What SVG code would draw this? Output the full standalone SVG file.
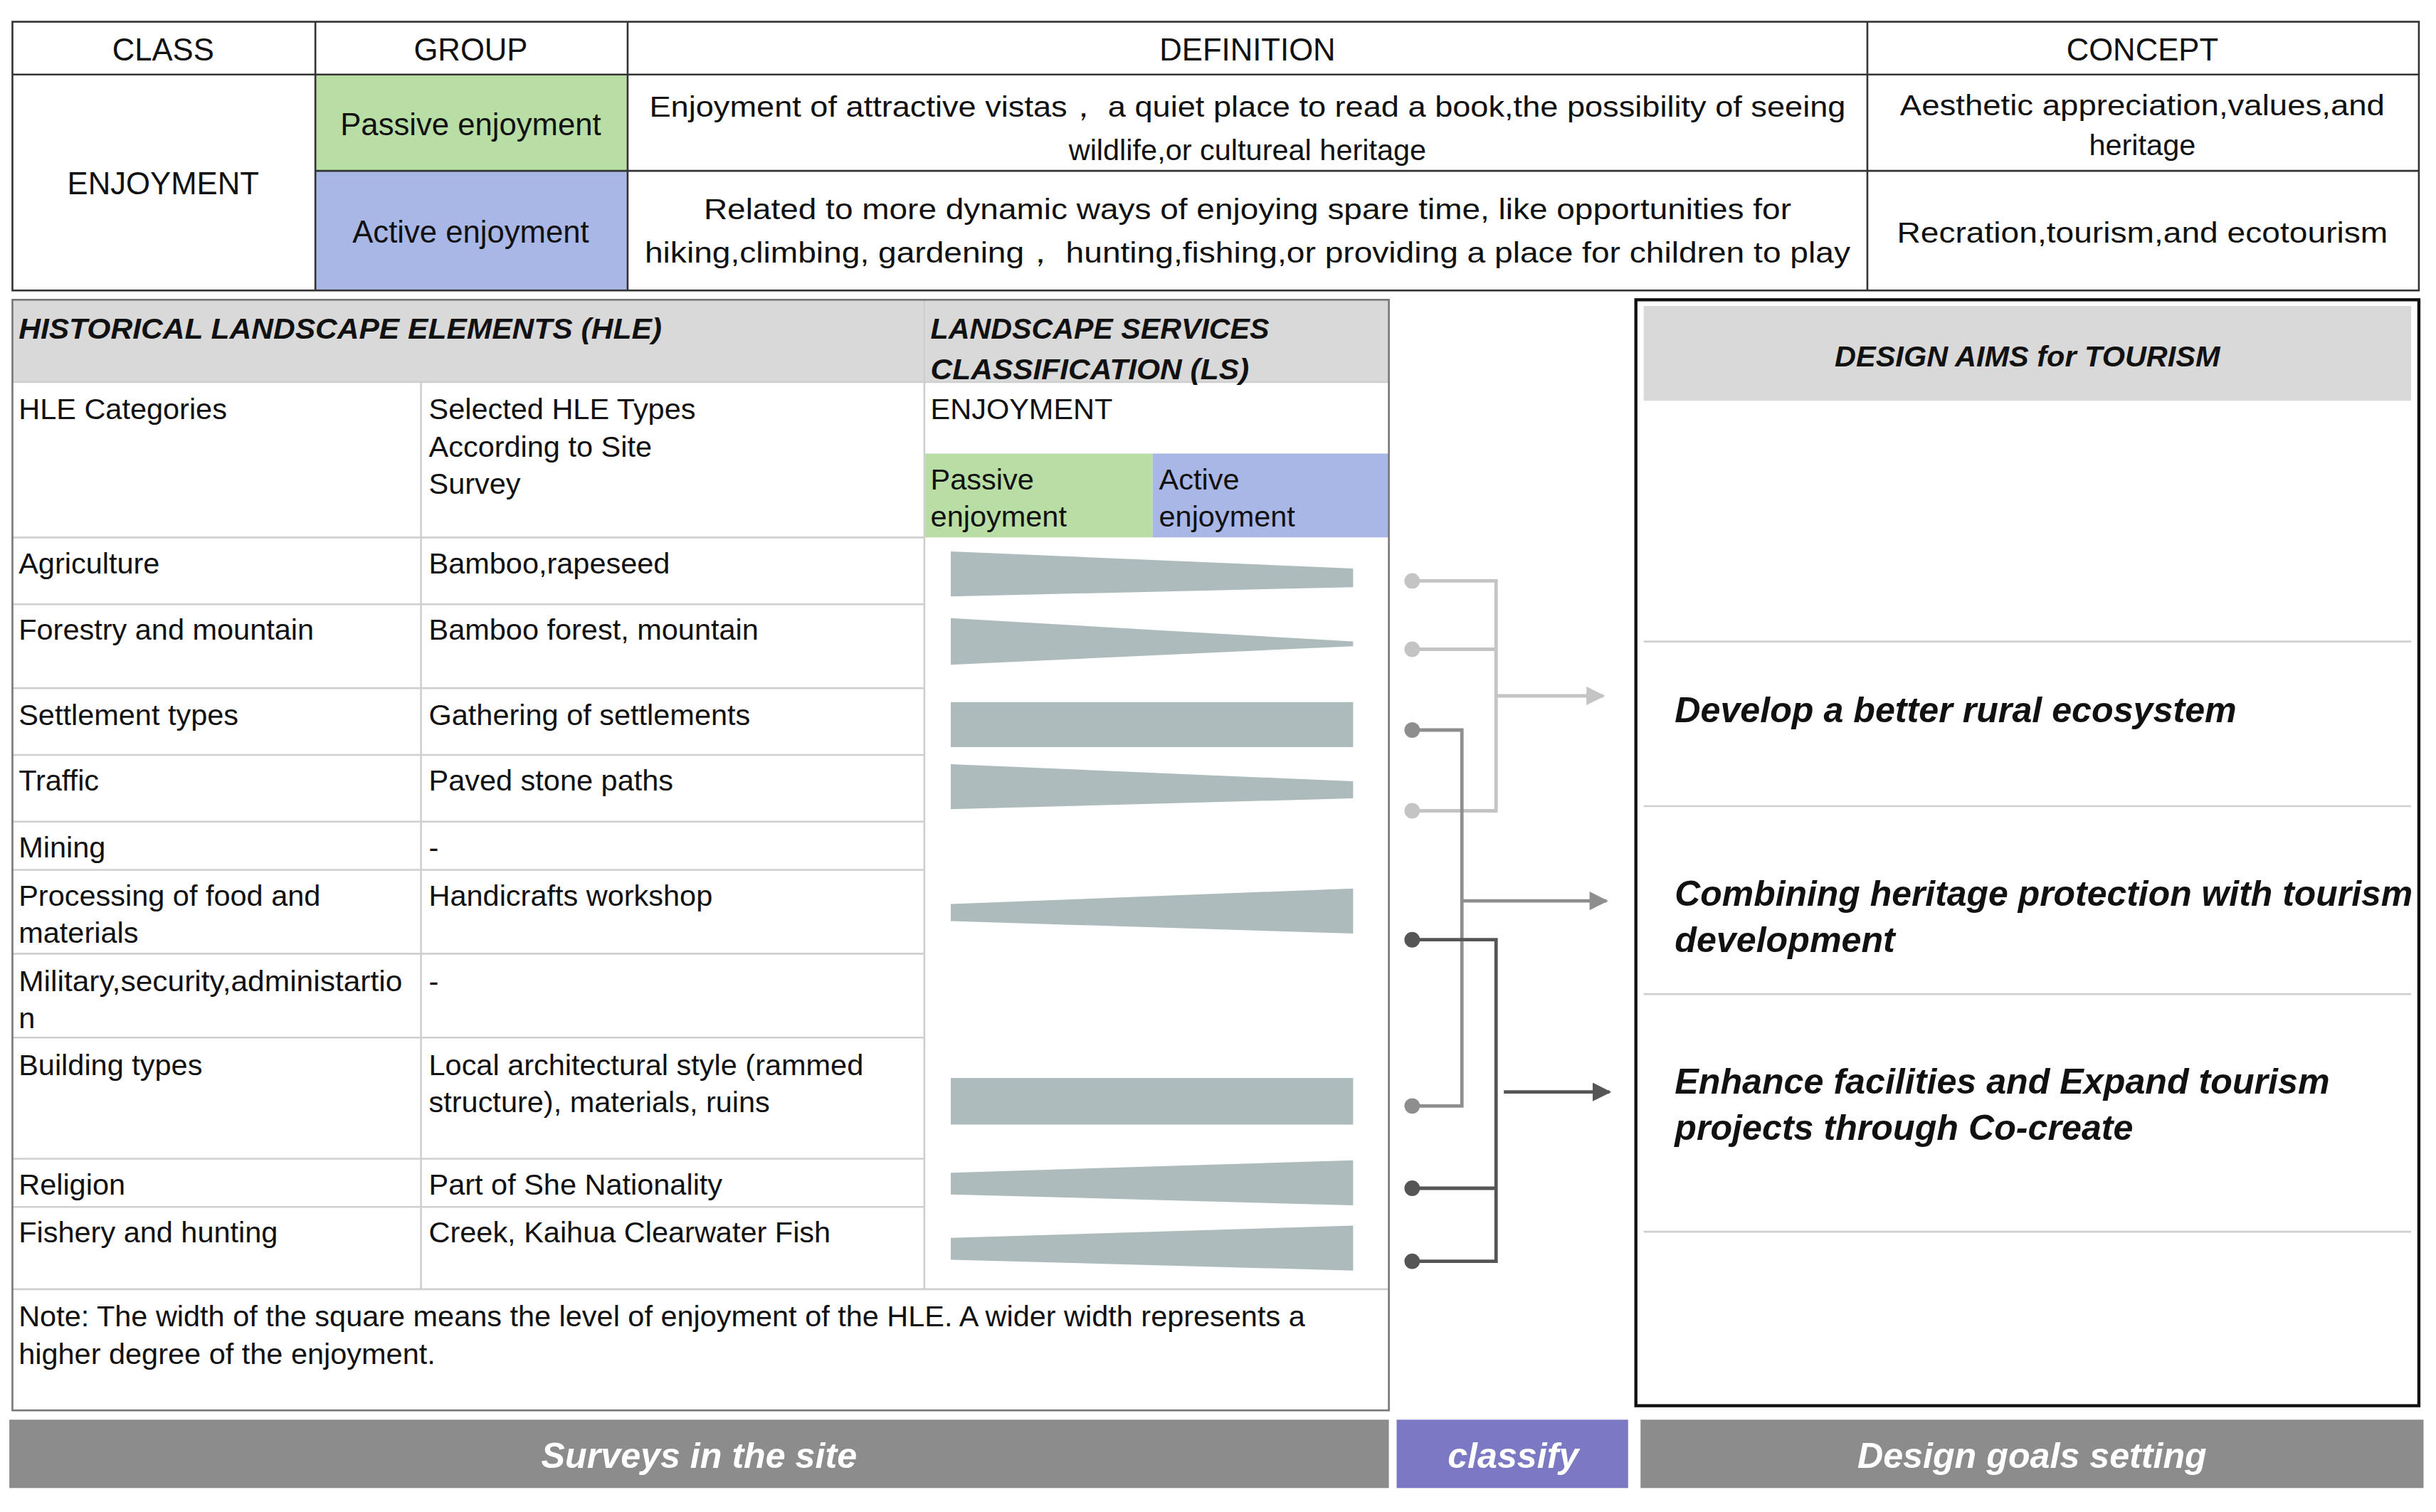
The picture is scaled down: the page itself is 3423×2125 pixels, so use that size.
<svg xmlns="http://www.w3.org/2000/svg" width="3423" height="2125" viewBox="0 0 3423 2125">
<style>
text{font-family:"Liberation Sans",Arial,sans-serif;font-size:19px;fill:#111}
.c{text-anchor:middle}
.h{font-size:20px}
.bi{font-weight:bold;font-style:italic}
.ln{stroke:#333;stroke-width:1.2;fill:none}
.lt{stroke:#cfcfcf;stroke-width:1.2;fill:none}
.w{fill:#aebbbd}
.bar{fill:#fff;font-weight:bold;font-style:italic;font-size:23px}
.aim{font-weight:bold;font-style:italic;font-size:23px}
</style>
<defs>
<marker id="a1" viewBox="0 0 10 10" refX="9" refY="5" markerWidth="14" markerHeight="12" markerUnits="userSpaceOnUse" orient="auto"><path d="M0,0L10,5L0,10z" fill="#c4c4c4"/></marker>
<marker id="a2" viewBox="0 0 10 10" refX="9" refY="5" markerWidth="14" markerHeight="12" markerUnits="userSpaceOnUse" orient="auto"><path d="M0,0L10,5L0,10z" fill="#8e8e8e"/></marker>
<marker id="a3" viewBox="0 0 10 10" refX="9" refY="5" markerWidth="14" markerHeight="12" markerUnits="userSpaceOnUse" orient="auto"><path d="M0,0L10,5L0,10z" fill="#555"/></marker>
</defs>
<rect width="3423" height="2125" fill="#fff"/>
<g transform="scale(2.183)">
<g id="top-table">
<rect x="203" y="48" width="201" height="62" fill="#b9dea5"/>
<rect x="203" y="110" width="201" height="77" fill="#a9b7e6"/>
<rect x="8" y="14" width="1549" height="173" class="ln"/>
<path class="ln" d="M8,48H1557M203,110H1557M203,14V187M404,14V187M1202,14V187"/>
<text class="c h" x="105" y="39">CLASS</text>
<text class="c h" x="303" y="39">GROUP</text>
<text class="c h" x="803" y="39">DEFINITION</text>
<text class="c h" x="1379" y="39">CONCEPT</text>
<text class="c h" x="105" y="125">ENJOYMENT</text>
<text class="c h" x="303" y="87">Passive enjoyment</text>
<text class="c h" x="303" y="156">Active enjoyment</text>
<text class="c" x="803" y="75" textLength="770" lengthAdjust="spacingAndGlyphs">Enjoyment of attractive vistas，  a quiet place to read a book,the possibility of seeing</text>
<text class="c" x="803" y="103">wildlife,or cultureal heritage</text>
<text class="c" x="803" y="141" textLength="700" lengthAdjust="spacingAndGlyphs">Related to more dynamic ways of enjoying spare time, like opportunities for</text>
<text class="c" x="803" y="169" textLength="776" lengthAdjust="spacingAndGlyphs">hiking,climbing, gardening，  hunting,fishing,or providing a place for children to play</text>
<text class="c" x="1379" y="74" textLength="312" lengthAdjust="spacingAndGlyphs">Aesthetic appreciation,values,and</text>
<text class="c" x="1379" y="100">heritage</text>
<text class="c" x="1379" y="156" textLength="316" lengthAdjust="spacingAndGlyphs">Recration,tourism,and ecotourism</text>
</g>
<g id="hle-table">
<rect x="8" y="193" width="886" height="53" fill="#d9d9d9"/>
<rect x="595" y="292" width="147" height="54" fill="#b9dea5"/>
<rect x="742" y="292" width="152" height="54" fill="#a9b7e6"/>
<path class="lt" d="M8,346H595M8,389H595M8,443H595M8,486H595M8,529H595M8,560H595M8,614H595M8,668H595M8,746H595M8,777H595M8,830H894M271,246V830M595,193V830M8,246H894"/>
<rect x="8" y="193" width="886" height="715" fill="none" stroke="#777" stroke-width="1.2"/>
<text class="bi" x="12" y="218" textLength="414" lengthAdjust="spacingAndGlyphs">HISTORICAL LANDSCAPE ELEMENTS (HLE)</text>
<text class="bi" x="599" y="218" textLength="218" lengthAdjust="spacingAndGlyphs">LANDSCAPE SERVICES</text>
<text class="bi" x="599" y="244" textLength="205" lengthAdjust="spacingAndGlyphs">CLASSIFICATION (LS)</text>
<text x="12" y="270">HLE Categories</text>
<text x="276" y="270">Selected HLE Types</text>
<text x="276" y="294">According to Site</text>
<text x="276" y="318">Survey</text>
<text x="599" y="270">ENJOYMENT</text>
<text x="599" y="315">Passive</text>
<text x="599" y="339">enjoyment</text>
<text x="746" y="315">Active</text>
<text x="746" y="339">enjoyment</text>
<text x="12" y="369">Agriculture</text><text x="276" y="369">Bamboo,rapeseed</text>
<text x="12" y="412">Forestry and mountain</text><text x="276" y="412">Bamboo forest, mountain</text>
<text x="12" y="467">Settlement types</text><text x="276" y="467">Gathering of settlements</text>
<text x="12" y="509">Traffic</text><text x="276" y="509">Paved stone paths</text>
<text x="12" y="552">Mining</text><text x="276" y="552">-</text>
<text x="12" y="583">Processing of food and</text><text x="12" y="607">materials</text><text x="276" y="583">Handicrafts workshop</text>
<text x="12" y="638" textLength="247" lengthAdjust="spacingAndGlyphs">Military,security,administartio</text><text x="12" y="662">n</text><text x="276" y="638">-</text>
<text x="12" y="692">Building types</text><text x="276" y="692">Local architectural style (rammed</text><text x="276" y="716">structure), materials, ruins</text>
<text x="12" y="769">Religion</text><text x="276" y="769">Part of She Nationality</text>
<text x="12" y="800">Fishery and hunting</text><text x="276" y="800">Creek, Kaihua Clearwater Fish</text>
<text x="12" y="854" textLength="828" lengthAdjust="spacingAndGlyphs">Note: The width of the square means the level of enjoyment of the HLE. A wider width represents a</text>
<text x="12" y="878">higher degree of the enjoyment.</text>
<polygon class="w" points="612,355 871,366 871,378 612,384"/>
<polygon class="w" points="612,398 871,413 871,416 612,428"/>
<polygon class="w" points="612,452 871,452 871,481 612,481"/>
<polygon class="w" points="612,492 871,503 871,514 612,521"/>
<polygon class="w" points="612,582 871,572 871,601 612,593"/>
<polygon class="w" points="612,694 871,694 871,724 612,724"/>
<polygon class="w" points="612,755 871,747 871,776 612,769"/>
<polygon class="w" points="612,797 871,789 871,818 612,811"/>
</g>
<g id="connectors" fill="none" stroke-width="2.2">
<g stroke="#c4c4c4"><path d="M909,374H963V522H909M909,418H963"/><path d="M963,448H1032" marker-end="url(#a1)"/><g fill="#c4c4c4" stroke="none"><circle cx="909" cy="374" r="5"/><circle cx="909" cy="418" r="5"/><circle cx="909" cy="522" r="5"/></g></g>
<g stroke="#8e8e8e"><path d="M909,470H941V712H909"/><path d="M941,580H1034" marker-end="url(#a2)"/><g fill="#8e8e8e" stroke="none"><circle cx="909" cy="470" r="5"/><circle cx="909" cy="712" r="5"/></g></g>
<g stroke="#555"><path d="M909,605H963V812H909M909,765H963"/><path d="M968,703H1036" marker-end="url(#a3)"/><g fill="#555" stroke="none"><circle cx="909" cy="605" r="5"/><circle cx="909" cy="765" r="5"/><circle cx="909" cy="812" r="5"/></g></g>
</g>
<g id="design-aims">
<rect x="1058" y="197" width="494" height="61" fill="#d9d9d9"/>
<path class="lt" d="M1058,413H1552M1058,519H1552M1058,640H1552M1058,793H1552"/>
<rect x="1053" y="193" width="504" height="712" fill="none" stroke="#111" stroke-width="2"/>
<text class="c bi" x="1305" y="236" font-size="22">DESIGN AIMS for TOURISM</text>
<text class="aim" x="1078" y="465">Develop a better rural ecosystem</text>
<text class="aim" x="1078" y="583" textLength="475" lengthAdjust="spacingAndGlyphs">Combining heritage protection with tourism</text>
<text class="aim" x="1078" y="613">development</text>
<text class="aim" x="1078" y="704">Enhance facilities and Expand tourism</text>
<text class="aim" x="1078" y="734">projects through Co-create</text>
</g>
<g id="bars">
<rect x="6" y="914" width="888" height="44" fill="#8c8c8c"/>
<rect x="899" y="914" width="149" height="44" fill="#7b78c4"/>
<rect x="1056" y="914" width="504" height="44" fill="#8c8c8c"/>
<text class="c bar" x="450" y="945">Surveys in the site</text>
<text class="c bar" x="974" y="945">classify</text>
<text class="c bar" x="1308" y="945">Design goals setting</text>
</g>
</g>
</svg>
